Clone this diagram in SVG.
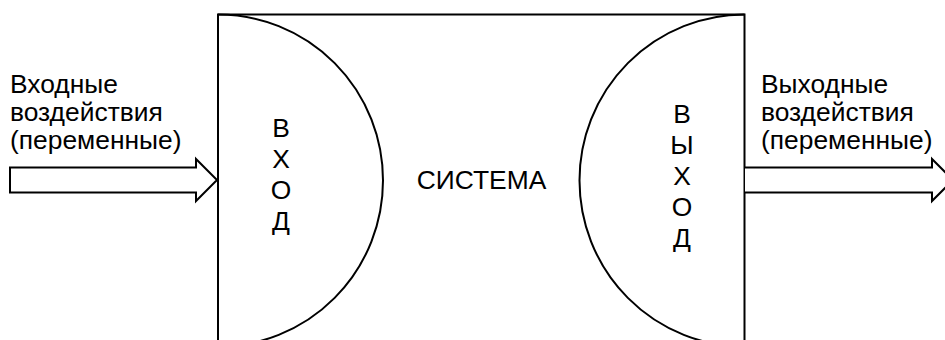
<svg xmlns="http://www.w3.org/2000/svg" width="945" height="340" viewBox="0 0 945 340">
<style>
.ln{fill:none;stroke:#000;stroke-width:2}
.ar{fill:#fff;stroke:#000;stroke-width:2;stroke-linejoin:miter}
text{font-family:"Liberation Sans",Arial,sans-serif;font-size:26.4px;fill:#000}
.c{text-anchor:middle}
</style>
<rect width="945" height="340" fill="#fff"/>
<g id="system">
<path class="ln" d="M218,345 V14.5 H744.5 V345"/>
<text class="c" x="481.5" y="188.5">СИСТЕМА</text>
</g>
<g id="input">
<path class="ln" d="M218,14.5 A165,166 0 0 1 218,346.5"/>
<text class="c" x="281" y="137">В</text>
<text class="c" x="281" y="168">Х</text>
<text class="c" x="281" y="199">О</text>
<text class="c" x="281" y="230">Д</text>
</g>
<g id="output">
<path class="ln" d="M744.5,14.5 A165,166 0 0 0 744.5,346.5"/>
<text class="c" x="682" y="123">В</text>
<text class="c" x="682" y="154">Ы</text>
<text class="c" x="682" y="185">Х</text>
<text class="c" x="682" y="216">О</text>
<text class="c" x="682" y="247">Д</text>
</g>
<g id="input-label">
<text x="10" y="93">Входные</text>
<text x="10" y="121">воздействия</text>
<text x="10" y="149">(переменные)</text>
</g>
<g id="output-label">
<text x="761" y="93">Выходные</text>
<text x="761" y="121">воздействия</text>
<text x="761" y="149">(переменные)</text>
</g>
<g id="connectors">
<path class="ar" d="M10,167.5 H196 V159 L217,180 L196,201 V192.5 H10 Z"/>
<path class="ar" d="M745,167.5 H932 V159 L953,180 L932,201 V192.5 H745"/>
</g>
</svg>
